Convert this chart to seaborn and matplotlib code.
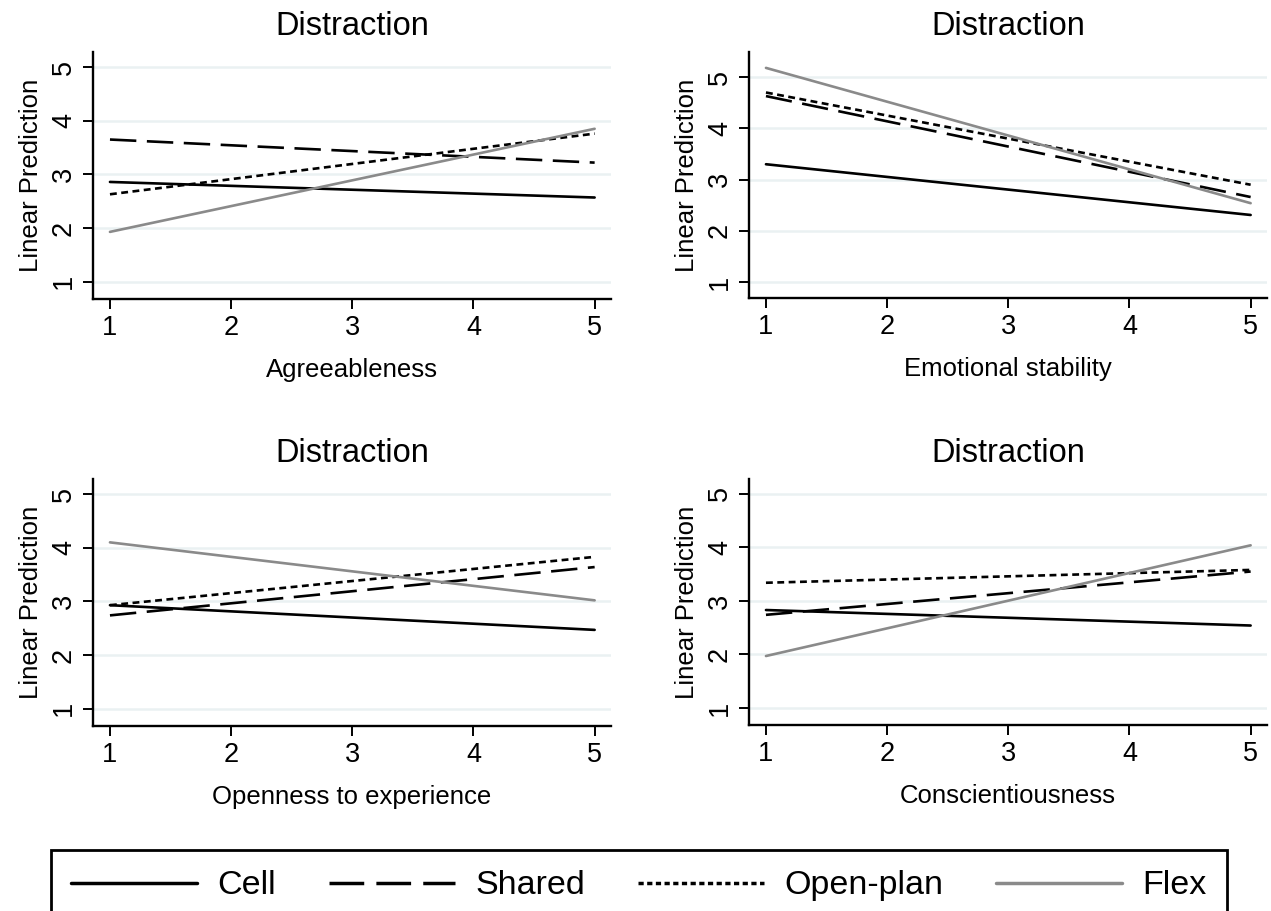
import numpy as np
import pandas as pd
from matplotlib import pyplot as plt
from matplotlib.lines import Line2D
import seaborn as sns

# predicted values at the ends of the 1..5 range
x_vals = [1, 5]
groups = ['Cell', 'Shared', 'Open-plan', 'Flex']

agree_cell = [2.86, 2.57]
agree_shared = [3.65, 3.22]
agree_open = [2.63, 3.76]
agree_flex = [1.93, 3.85]

emot_cell = [3.30, 2.31]
emot_shared = [4.63, 2.66]
emot_open = [4.70, 2.90]
emot_flex = [5.18, 2.54]

openx_cell = [2.93, 2.47]
openx_shared = [2.74, 3.64]
openx_open = [2.93, 3.83]
openx_flex = [4.10, 3.02]

consc_cell = [2.83, 2.54]
consc_shared = [2.74, 3.55]
consc_open = [3.34, 3.58]
consc_flex = [1.97, 4.04]

panels = [
    ('Agreeableness', [agree_cell, agree_shared, agree_open, agree_flex], (0.68, 5.28)),
    ('Emotional stability', [emot_cell, emot_shared, emot_open, emot_flex], (0.69, 5.49)),
    ('Openness to experience', [openx_cell, openx_shared, openx_open, openx_flex], (0.68, 5.28)),
    ('Conscientiousness', [consc_cell, consc_shared, consc_open, consc_flex], (0.68, 5.28)),
]

sns.set_style('white')
plt.rcParams['font.family'] = ['Liberation Sans', 'DejaVu Sans']
plt.rcParams['text.color'] = 'black'
plt.rcParams['axes.labelcolor'] = 'black'
plt.rcParams['xtick.color'] = 'black'
plt.rcParams['ytick.color'] = 'black'

palette = {'Cell': 'black', 'Shared': 'black', 'Open-plan': 'black', 'Flex': '#8a8a8a'}
dashes = {'Cell': '', 'Shared': (10, 4), 'Open-plan': (2.6, 1.7), 'Flex': ''}

W, H = 1271, 911
fig = plt.figure(figsize=(W / 100, H / 100), dpi=100)

# axes boxes in pixels: left, top, right, bottom
boxes = [(93, 52, 611, 299), (749, 52, 1267, 298),
         (93, 479, 611, 726), (749, 479, 1267, 725)]

for (xlabel, series, ylim), (l, t, r, b) in zip(panels, boxes):
    ax = fig.add_axes([l / W, 1 - b / H, (r - l) / W, (b - t) / H])
    rows = []
    for g, vals in zip(groups, series):
        for xv, yv in zip(x_vals, vals):
            rows.append({'x': xv, 'y': yv, 'group': g})
    df = pd.DataFrame(rows)
    sns.lineplot(data=df, x='x', y='y', hue='group', style='group',
                 palette=palette, dashes=dashes, hue_order=groups,
                 style_order=groups, linewidth=1.9, legend=False, ax=ax)
    ax.set_xlim(0.86, 5.135)
    ax.set_ylim(*ylim)
    ax.set_xticks([1, 2, 3, 4, 5])
    ax.set_yticks([1, 2, 3, 4, 5])
    for yv in [1, 2, 3, 4, 5]:
        ax.axhline(yv, color='#eaf1f2', lw=1.8, zorder=0)
    sns.despine(ax=ax)
    ax.spines['left'].set_linewidth(1.7)
    ax.spines['bottom'].set_linewidth(1.7)
    ax.spines['left'].set_color('black')
    ax.spines['bottom'].set_color('black')
    ax.tick_params(axis='both', direction='out', length=7.5, width=1.4,
                   color='black', labelsize=19.5, pad=4, left=True, bottom=True)
    plt.setp(ax.get_yticklabels(), rotation=90, va='center')
    ax.set_xlabel(xlabel, fontsize=18.5, labelpad=12)
    ax.set_ylabel('Linear Prediction', fontsize=18.5, labelpad=6)
    ax.set_title('Distraction', fontsize=23.5, pad=12)

handles = [
    Line2D([], [], color='black', lw=2.5),
    Line2D([], [], color='black', lw=2.5, dashes=(10, 3.5)),
    Line2D([], [], color='black', lw=2.5, dashes=(1.5, 1)),
    Line2D([], [], color='#8a8a8a', lw=2.5),
]
leg = fig.legend(handles, groups, loc='upper left', ncol=4, mode='expand',
                 bbox_to_anchor=(51 / W, 0, (1227 - 51) / W, 1 - 850 / H),
                 fontsize=24.5, frameon=True, fancybox=False, edgecolor='black',
                 framealpha=1, handlelength=3.7, handletextpad=0.6, borderpad=0.6,
                 borderaxespad=0, columnspacing=1.5)
leg.get_frame().set_linewidth(2)

fig.savefig('out.png', dpi=100, facecolor='white')
